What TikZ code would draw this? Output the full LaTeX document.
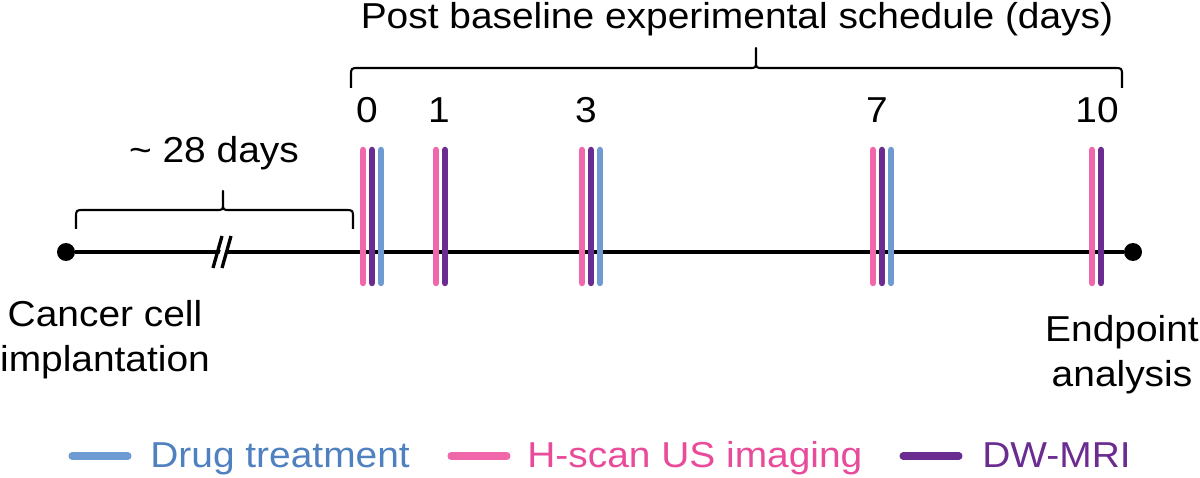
\documentclass[tikz,border=0pt]{standalone}
\usepackage{fontspec}
\setmainfont{Liberation Sans}[FakeStretch=1.08]
\usepackage{tikz}
\usetikzlibrary{positioning}
\usetikzlibrary{calc}

\definecolor{scanpink}{HTML}{F067AA}
\definecolor{mripurple}{HTML}{6A2C90}
\definecolor{drugblue}{HTML}{6E9CD2}
\definecolor{scanpinktxt}{HTML}{E94B9B}
\definecolor{drugbluetxt}{HTML}{4F80C0}

\tikzset{
  dot/.style={circle, fill=black, inner sep=0pt, minimum size=0.36cm},
  timeline/.style={line width=2.3pt},
  bar/.style={line width=3.7pt, line cap=round},
  legline/.style={line width=4pt, line cap=round},
  bracket/.style={line width=1.2pt, line join=round},
  slash/.style={line width=1.9pt}
}

\begin{document}
\begin{tikzpicture}[
            x=0.02cm, y=0.02cm,
            every node/.style={inner sep=0pt, font=\fontsize{20.5}{25.5}\selectfont}
        ]
        \useasboundingbox (0,0) rectangle (1200,477);
        % main time axis
        \node[dot] (start) at (66,225) {};
        \node[dot] (end) at (1133,225) {};
        \draw[timeline] (start) -- (end);
        % axis break
        \coordinate (brk) at (222,225);
        \draw[white, line width=3pt] ($(brk)+(-3,-11)$) -- ($(brk)+(5,11)$);
        \draw[slash] ($(brk)+(-9,-16)$) -- ($(brk)+(0,16)$);
        \draw[slash] ($(brk)+(0,-16)$) -- ($(brk)+(9,16)$);
        % measurement bars
        \foreach \x/\c in {363/scanpink, 372/mripurple, 381/drugblue,
                           436/scanpink, 445/mripurple,
                           582/scanpink, 591/mripurple, 600/drugblue,
                           873/scanpink, 882/mripurple, 891/drugblue,
                           1092/scanpink, 1101/mripurple}
            \draw[bar, \c] (\x,194) -- (\x,327);
        % day numbers
        \node[anchor=base] (d0) at (367,354) {0};
        \node[anchor=base] (d1) at (439,354) {1};
        \node[anchor=base] (d3) at (586,354) {3};
        \node[anchor=base] (d7) at (877,354) {7};
        \node[anchor=base] (d10) at (1097,354) {10};
        % braces
        \draw[bracket] (76,248) -- (76,259) .. controls (76,267) .. (84,267)
            -- (216,267) .. controls (223,267) .. (223,274) -- (223,286)
            -- (223,274) .. controls (223,267) .. (230,267)
            -- (345,267) .. controls (353,267) .. (353,259) -- (353,248);
        \draw[bracket] (351,389) -- (351,401) .. controls (351,409) .. (359,409)
            -- (749,409) .. controls (756,409) .. (756,416) -- (756,429)
            -- (756,416) .. controls (756,409) .. (763,409)
            -- (1114,409) .. controls (1122,409) .. (1122,401) -- (1122,389);
        \node[anchor=base] (wait) at (214,314) {\textasciitilde{} 28 days};
        \node[anchor=base] (sched) at (737,448) {Post baseline experimental schedule (days)};
        % end labels
        \node[align=center] (implant) at (105,137) {Cancer cell\\implantation};
        \node[align=center] (endpt) at (1122,122) {Endpoint\\analysis};
        % legend
        \node[anchor=base west, text=drugbluetxt] (legdrug) at (150,10) {Drug treatment};
        \node[anchor=base west, text=scanpinktxt] (legscan) at (527,10) {H-scan US imaging};
        \node[anchor=base west, text=mripurple] (legmri) at (982,10) {DW-MRI};
        \draw[legline, drugblue] (72,21) -- (128,21);
        \draw[legline, scanpink] (451,21) -- (507,21);
        \draw[legline, mripurple] (903,21) -- (959,21);
    \end{tikzpicture}
\end{document}
